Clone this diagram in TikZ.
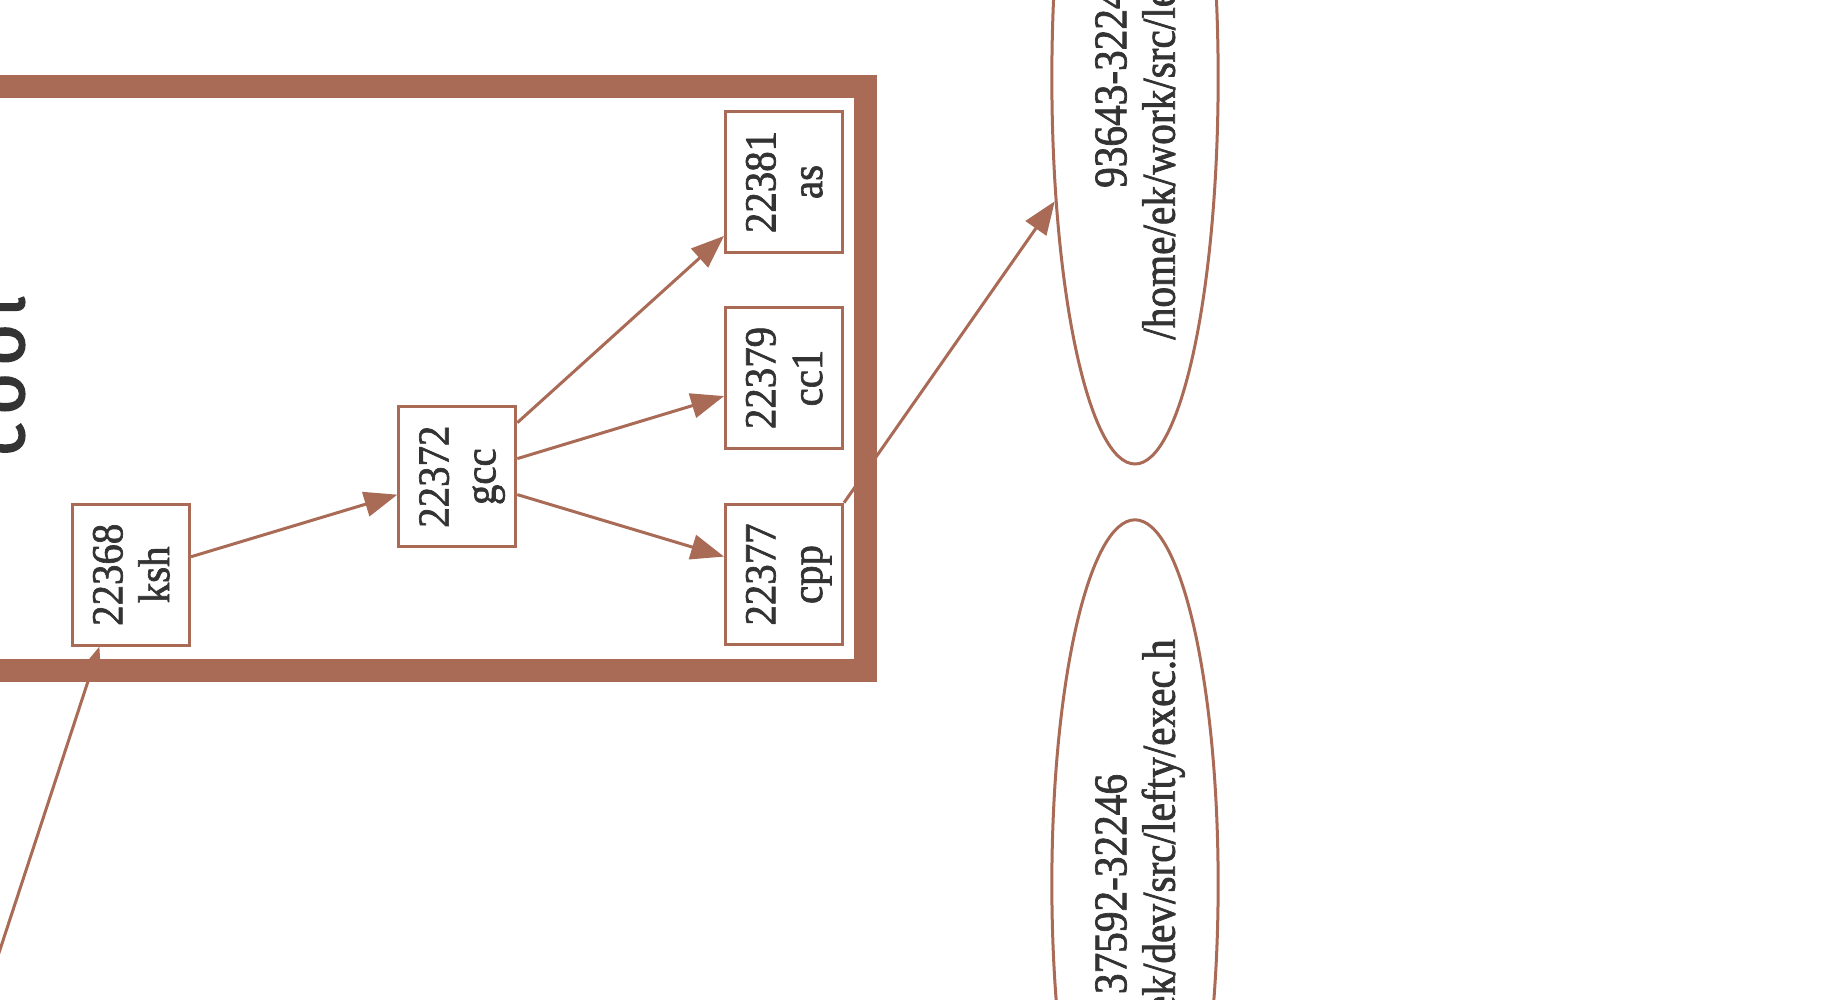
\documentclass[tikz,border=0pt]{standalone}
\usepackage{fontspec}
\setmainfont{Liberation Serif}
\newfontfamily\boxfont[FakeStretch=0.92,FakeBold=1.5]{Liberation Serif}
\newfontfamily\filefont[FakeStretch=0.88,FakeBold=1.5]{Liberation Serif}
\newfontfamily\labfont[FakeBold=2]{Fira Sans}
\usetikzlibrary{arrows.meta,shapes.geometric}
\definecolor{gvline}{HTML}{A96A56}
\definecolor{gvtext}{HTML}{333333}
\begin{document}
\begin{tikzpicture}[x=1pt,y=1pt,
  proc/.style={draw=gvline, line width=3pt, rectangle, rotate=90,
    minimum width=140.5pt, minimum height=117pt, inner sep=0pt, align=center,
    text=gvtext, font=\boxfont\fontsize{44.4}{46.7}\selectfont},
  file/.style={draw=gvline, line width=3pt, ellipse, rotate=90,
    minimum height=166.3pt, inner sep=0pt, align=center,
    text=gvtext, font=\filefont\fontsize{46.9}{48.4}\selectfont},
  cluster/.style={draw=gvline, line width=23pt, rectangle, inner sep=0pt},
  edge/.style={draw=gvline, line width=3pt, -{Triangle[length=33pt,width=25pt]}},
]
\useasboundingbox (0,0) rectangle (1840,-1000);
\clip (0,0) rectangle (1840,-1000);
\fill[white] (0,0) rectangle (1840,-1000);

% cluster "cool"
\node[cluster, minimum width=965.5pt, minimum height=583.3pt] (coolbox) at (382.75,-378.35) {};
\node[font=\labfont\fontsize{72}{72}\selectfont, text=gvtext, rotate=90, anchor=base, inner sep=0pt]
  (coollabel) at (24,-376) {c\kern7pt o\kern7pt o\kern7pt l};

% process nodes
\node[proc] (ksh) at (131,-574.8) {22368\\\smash{ksh}};
\node[proc] (gcc) at (457.3,-476.7) {22372\\\smash{gcc}};
\node[proc] (cpp) at (784,-574.5) {22377\\\smash{cpp}};
\node[proc] (cc1) at (784,-378) {22379\\\smash{cc1}};
\node[proc] (as)  at (784,-182) {22381\\\smash{as}};

% file nodes
\node[file, minimum width=772.4pt] (f1) at (1135,-77.8) {93643-32246\\\smash{/home/ek/work/src/lefty/parse.c}};
\node[file, minimum width=728.4pt] (f2) at (1135,-884) {37592-32246\\\smash{/home/ek/dev/src/lefty/exec.h}};

% edges
\coordinate (src) at (-32.9,-1050);
\draw[edge] (src) -- ([xshift=28.4pt]ksh.north west);
\draw[edge] (ksh) -- (gcc);
\draw[edge] (gcc) -- (as);
\draw[edge] (gcc) -- (cc1);
\draw[edge] (gcc) -- (cpp);
\draw[edge] (cpp.south east) -- (f1.147);
\end{tikzpicture}
\end{document}
